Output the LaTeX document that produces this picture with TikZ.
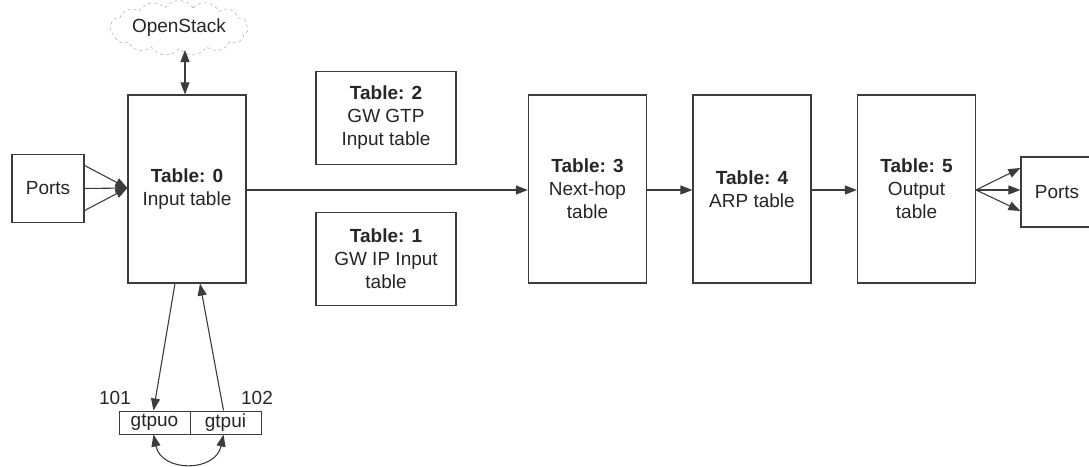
\documentclass[tikz,border=0pt]{standalone}
\usepackage{fontspec}
\setmainfont{Liberation Sans}
\usetikzlibrary{arrows.meta,shapes.symbols,calc}
\definecolor{linec}{HTML}{3C3C3C}
\definecolor{textc}{HTML}{262626}
\definecolor{cloudc}{HTML}{B4B4B4}
\tikzset{
  box/.style={draw=linec, line width=1.2pt, fill=white, align=center, text=textc,
              inner sep=0pt, font=\fontsize{19}{23}\selectfont},
  tbl/.style={box, minimum width=118pt, minimum height=188pt},
  side/.style={box, minimum width=140pt, minimum height=93pt},
  portbox/.style={box, minimum width=72pt, minimum height=68pt},
  iface/.style={box, minimum width=71pt, minimum height=23pt, line width=1pt},
  lbl/.style={text=textc, font=\fontsize{19}{23}\selectfont, inner sep=0pt},
  tip/.tip={Triangle[length=12pt,width=9pt]},
  flow/.style={draw=linec, line width=1.1pt, -tip},
  flow2/.style={draw=linec, line width=1.1pt, tip-tip}
}
\begin{document}
\begin{tikzpicture}[x=1pt, y=-1pt]
\useasboundingbox (0,0) rectangle (1089,466);

% controller cloud
\node[cloud, cloud puffs=15, cloud puff arc=110, aspect=3.2, draw=cloudc, dashed,
      line width=0.6pt, minimum width=138pt, minimum height=46pt, lbl, inner sep=0pt]
      (os) at (179,28) {OpenStack};

% pipeline tables
\node[tbl] (t0) at (187,189) {\textbf{Table: 0}\\Input table};
\node[side] (t2) at (386,118) {\textbf{Table: 2}\\GW GTP\\Input table};
\node[side] (t1) at (386,259) {\textbf{Table: 1}\\GW IP Input\\table};
\node[tbl] (t3) at (587.5,189) {\textbf{Table: 3}\\Next-hop\\table};
\node[tbl] (t4) at (752,189) {\textbf{Table: 4}\\ARP table};
\node[tbl] (t5) at (916.5,189) {\textbf{Table: 5}\\Output\\table};

% ports
\node[portbox] (pin) at (48,188.5) {Ports};
\node[portbox, minimum height=70pt] (pout) at (1057,192) {Ports};

% tunnel interfaces
\node[iface] (gtpuo) at (154.5,422.5) {gtpuo};
\node[iface] (gtpui) at (225.5,422.5) {gtpui};
\node[lbl] (n101) at (115,398) {101};
\node[lbl] (n102) at (257,398) {102};

% controller link
\coordinate (osb) at (185,50);
\draw[flow2] (osb) -- (osb |- t0.north);

% ingress from ports
\foreach \dy in {-23,0,22} {
  \draw[flow] ($(pin.east)+(0,\dy)$) -- (t0.west |- 0,188);
}

% main path
\draw[flow] (t0.east |- 0,190) -- (t3.west |- 0,190);
\draw[flow] (t3.east |- 0,190) -- (t4.west |- 0,190);
\draw[flow] (t4.east |- 0,190) -- (t5.west |- 0,190);

% egress to ports
\foreach \dy in {-24,-2,19} {
  \draw[flow] (t5.east |- 0,190) -- ($(pout.west)+(0,\dy)$);
}

% tunnel loop
\draw[flow] ($(t0.south)+(-12,0)$) -- ($(gtpuo.north)+(-1,0)$);
\draw[flow] ($(gtpui.north)+(-2,0)$) -- ($(t0.south)+(13,0)$);
\draw[flow2] ($(gtpuo.south)+(-1,0)$) .. controls +(8,38) and +(-8,38) .. ($(gtpui.south)+(-2,0)$);
\end{tikzpicture}
\end{document}
